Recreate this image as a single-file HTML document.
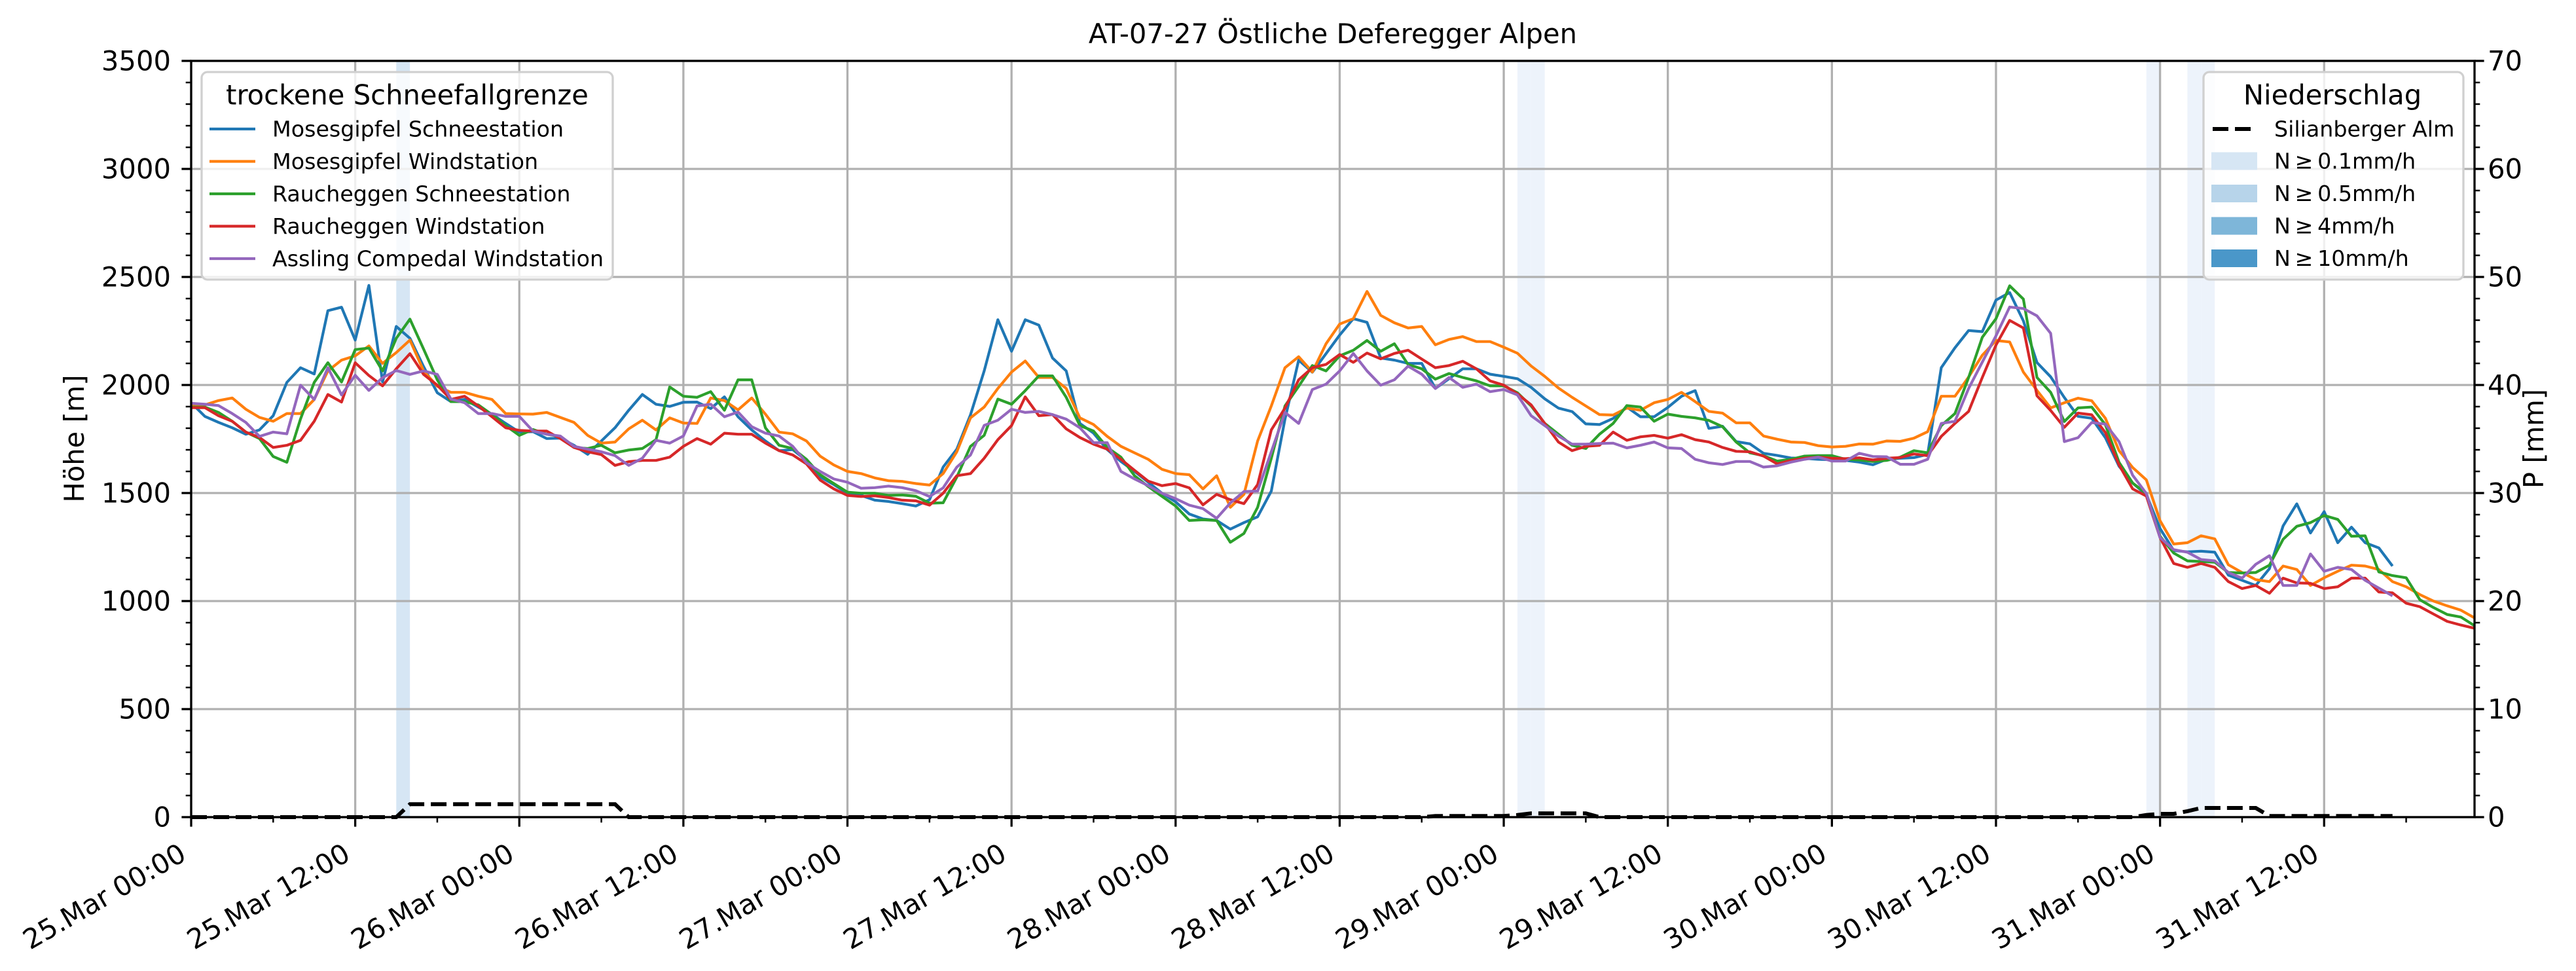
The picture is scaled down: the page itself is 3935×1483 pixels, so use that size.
<!DOCTYPE html>
<html><head><meta charset="utf-8"><title>AT-07-27 Östliche Deferegger Alpen</title>
<style>
html,body{margin:0;padding:0;background:#fff;}
svg{display:block;font-family:"DejaVu Sans","Liberation Sans",sans-serif;}
</style></head>
<body>
<svg id="chart" xmlns="http://www.w3.org/2000/svg" width="3935" height="1483" viewBox="0 0 3935 1483">
<rect x="0" y="0" width="3935" height="1483" fill="#fff"/>
<g id="bands"></g>
<g id="grid"></g>
<g id="series"></g>
<g id="axes"></g>
<text x="2036" y="66" font-size="41.7" text-anchor="middle">AT-07-27 Östliche Deferegger Alpen</text>
<text x="0" y="0" font-size="41.7" text-anchor="middle" transform="translate(128,670) rotate(-90)">Höhe [m]</text>
<text x="0" y="0" font-size="41.7" text-anchor="middle" transform="translate(3885,670) rotate(-90)">P [mm]</text>
<g id="legend1"></g>
<g id="legend2"></g>
</svg>
<script>
// ---- data (hourly from 25.Mar 00:00) ----
const tickLabels = ["25.Mar 00:00","25.Mar 12:00","26.Mar 00:00","26.Mar 12:00","27.Mar 00:00","27.Mar 12:00","28.Mar 00:00","28.Mar 12:00","29.Mar 00:00","29.Mar 12:00","30.Mar 00:00","30.Mar 12:00","31.Mar 00:00","31.Mar 12:00"];
const yTicks = [0,500,1000,1500,2000,2500,3000,3500];
const y2Ticks = [0,10,20,30,40,50,60,70];
const seriesNames = ["Mosesgipfel Schneestation","Mosesgipfel Windstation","Raucheggen Schneestation","Raucheggen Windstation","Assling Compedal Windstation"];
const mosesSchnee = [1918,1855,1827,1802,1772,1792,1858,2012,2080,2051,2344,2360,2208,2461,2014,2271,2216,2085,1964,1923,1933,1898,1865,1822,1782,1784,1752,1754,1721,1679,1741,1802,1883,1956,1911,1901,1920,1921,1891,1945,1853,1792,1741,1696,1701,
1650,1575,1539,1499,1489,1467,1461,1451,1440,1469,1620,1703,1862,2065,2302,2156,2302,2277,2125,2065,1822,1777,1701,1646,1600,1550,1499,1459,1403,1380,1373,1333,1363,1390,1509,1842,2115,2059,2145,2231,2307,2290,2125,2115,2100,
2100,1984,2029,2075,2075,2050,2040,2029,1989,1936,1893,1877,1820,1817,1845,1898,1853,1853,1896,1948,1974,1799,1809,1738,1728,1684,1674,1662,1660,1656,1654,1651,1643,1631,1656,1661,1664,1679,2080,2172,2252,2247,2393,2428,2297,
2104,2038,1942,1855,1846,1756,1624,1546,1492,1336,1234,1228,1231,1226,1120,1096,1072,1150,1348,1450,1315,1414,1270,1342,1270,1246,1162];
const mosesWind = [1903,1908,1928,1940,1888,1850,1832,1868,1868,1933,2065,2115,2135,2181,2100,2150,2208,2065,1994,1966,1966,1948,1933,1868,1866,1865,1873,1850,1827,1767,1731,1736,1797,1837,1792,1848,1824,1822,1940,1928,1885,1940,1865,1782,1774,
1741,1671,1630,1600,1590,1570,1557,1554,1544,1537,1590,1691,1848,1898,1984,2060,2111,2035,2035,1984,1848,1817,1762,1716,1686,1656,1610,1590,1585,1519,1580,1434,1494,1741,1903,2080,2131,2060,2191,2282,2307,2433,2322,2288,2264,
2271,2186,2211,2224,2201,2201,2175,2147,2088,2040,1986,1943,1903,1863,1861,1893,1883,1918,1933,1966,1923,1878,1870,1825,1825,1764,1749,1736,1734,1719,1713,1716,1727,1726,1741,1739,1754,1784,1948,1948,2037,2138,2206,2199,2060,
1975,1894,1918,1939,1927,1846,1696,1618,1561,1372,1264,1270,1302,1288,1168,1132,1099,1090,1162,1146,1072,1108,1138,1166,1162,1146,1090,1066,1030,1000,978,958,922];
const rauchSchnee = [1898,1898,1873,1832,1782,1752,1669,1642,1843,2012,2103,2014,2164,2171,2065,2216,2305,2166,2024,1923,1923,1908,1863,1812,1767,1794,1772,1762,1711,1706,1721,1686,1699,1706,1747,1991,1948,1943,1969,1883,2024,2024,1802,1721,1706,
1656,1585,1544,1504,1499,1499,1489,1491,1485,1453,1455,1574,1716,1767,1935,1911,1974,2042,2042,1943,1812,1787,1711,1666,1580,1530,1485,1440,1373,1376,1373,1272,1313,1434,1661,1903,1994,2090,2065,2135,2161,2206,2156,2191,2095,
2075,2027,2053,2035,2019,1996,1996,1964,1903,1822,1772,1721,1706,1772,1822,1905,1898,1832,1865,1855,1848,1836,1807,1736,1686,1673,1648,1656,1671,1673,1673,1656,1653,1646,1651,1666,1696,1686,1812,1868,2035,2221,2307,2459,2398,
2035,1966,1831,1894,1898,1816,1642,1546,1498,1300,1222,1186,1183,1180,1132,1130,1132,1166,1286,1346,1363,1396,1378,1300,1302,1135,1118,1108,1006,970,938,926,886];
const rauchWind = [1895,1895,1858,1832,1782,1757,1711,1721,1744,1832,1956,1921,2103,2044,1996,2075,2145,2049,1999,1933,1948,1903,1853,1802,1790,1787,1787,1752,1711,1691,1678,1628,1645,1651,1651,1666,1716,1752,1726,1777,1772,1772,1731,1696,1676,
1635,1560,1519,1489,1484,1487,1479,1467,1464,1444,1499,1580,1590,1661,1747,1812,1945,1858,1863,1797,1757,1726,1703,1656,1605,1555,1534,1544,1524,1445,1494,1469,1451,1539,1792,1893,2024,2080,2095,2141,2105,2148,2121,2146,2161,
2120,2080,2090,2110,2075,2019,1999,1959,1908,1822,1736,1696,1716,1721,1782,1744,1760,1767,1754,1770,1747,1736,1711,1693,1691,1671,1635,1651,1661,1666,1661,1659,1663,1653,1661,1664,1681,1673,1762,1822,1878,2035,2185,2299,2264,
1950,1882,1804,1870,1862,1780,1630,1519,1486,1294,1174,1156,1174,1156,1090,1058,1072,1036,1106,1084,1082,1058,1066,1106,1106,1042,1038,990,974,940,906,889,874];
const asslingWind = [1915,1911,1905,1868,1827,1762,1782,1774,1999,1933,2080,1954,2045,1975,2034,2067,2049,2065,2049,1935,1918,1868,1868,1855,1855,1787,1772,1764,1716,1703,1691,1673,1628,1661,1744,1731,1764,1903,1911,1853,1875,1807,1777,1764,1716,
1640,1600,1565,1550,1522,1525,1532,1525,1511,1484,1524,1620,1676,1813,1837,1888,1873,1878,1863,1842,1802,1733,1733,1600,1565,1534,1499,1474,1444,1428,1383,1454,1507,1509,1691,1873,1822,1979,2004,2065,2146,2065,1999,2024,2087,
2050,1984,2035,1989,2004,1969,1979,1954,1858,1812,1764,1726,1726,1729,1731,1709,1721,1736,1709,1706,1656,1640,1632,1646,1646,1620,1626,1643,1656,1666,1648,1648,1684,1669,1668,1633,1633,1656,1822,1832,1984,2106,2228,2361,2354,
2320,2239,1738,1756,1826,1819,1738,1582,1498,1294,1238,1226,1192,1186,1132,1106,1170,1210,1072,1072,1218,1138,1156,1146,1096,1060,1024];
const precipSilian = [0,0,0,0,0,0,0,0,0,0,0,0,0,0,0,0,
1.2,1.2,1.2,1.2,1.2,1.2,1.2,1.2,1.2,1.2,1.2,1.2,1.2,1.2,1.2,1.2,
0,0,0,0,0,0,0,0,0,0,0,0,0,0,0,0,0,0,0,0,0,0,0,0,0,0,0,0,0,0,0,0,0,0,0,0,0,0,0,0,0,0,0,0,0,0,0,0,0,0,0,0,0,0,0,0,0,0,0,
0.1,0.1,0.1,0.1,0.1,0.1,0.2,0.35,0.35,0.35,0.35,0.35,
0,0,0,0,0,0,0,0,0,0,0,0,0,0,0,0,0,0,0,0,0,0,0,0,0,0,0,0,0,0,0,0,0,0,0,0,0,0,0,0,
0.2,0.3,0.3,0.55,0.85,0.85,0.85,0.85,0.85,0.1,0.1,0.1,0.1,0.1,0.1,0.1,0.1,0.1,0.1];
const bandHours = [15,97,98,143,146,147];
const bandLevels = [1,0,0,0,0,0];

// ---- layout ----
const X0=292, X1=3780, Y0=1248, Y1=93, HMAX=167;
const NS="http://www.w3.org/2000/svg";
function xs(h){return X0+h*(X1-X0)/HMAX;}
function ys(v){return Y0-v*(Y0-Y1)/3500;}
function yp(m){return Y0-m*(Y0-Y1)/70;}
function mk(tag,attrs,parent){const e=document.createElementNS(NS,tag);for(const k in attrs)e.setAttribute(k,attrs[k]);parent.appendChild(e);return e;}
const colors=["#1f77b4","#ff7f0e","#2ca02c","#d62728","#9467bd"];
const bandColors=["#edf3fb","#d6e6f4"];
const gB=document.getElementById('bands'),gG=document.getElementById('grid'),gS=document.getElementById('series'),gA=document.getElementById('axes');

bandHours.forEach((h,i)=>{
  const r=mk('rect',{x:xs(h),y:Y1,width:xs(h+1)-xs(h),height:Y0-Y1,fill:bandColors[bandLevels[i]]},gB);
  
  
});
// grid
yTicks.forEach(v=>{const l=mk('line',{x1:X0,x2:X1,y1:ys(v),y2:ys(v),stroke:'#b0b0b0','stroke-width':3.3},gG);
  
  });
tickLabels.forEach((t,i)=>{const x=xs(i*12);const l=mk('line',{x1:x,x2:x,y1:Y1,y2:Y0,stroke:'#b0b0b0','stroke-width':3.3},gG);
  
  });
// series
[mosesSchnee,mosesWind,rauchSchnee,rauchWind,asslingWind].forEach((arr,si)=>{
  const pts=arr.map((v,h)=>xs(h).toFixed(1)+','+ys(v).toFixed(1)).join(' ');
  const p=mk('polyline',{points:pts,fill:'none',stroke:colors[si],'stroke-width':4.2,'stroke-linejoin':'round'},gS);
  
  
});
const pp=mk('polyline',{points:precipSilian.map((m,h)=>xs(h).toFixed(1)+','+yp(m).toFixed(1)).join(' '),fill:'none',stroke:'#000','stroke-width':6,'stroke-dasharray':'24,10'},gS);


// axes frame
mk('rect',{x:X0,y:Y1,width:X1-X0,height:Y0-Y1,fill:'none',stroke:'#000','stroke-width':3.3},gA);
// y ticks
for(let v=0;v<=3500;v+=100){const major=v%500===0;mk('line',{x1:X0,x2:X0-(major?14.6:8.3),y1:ys(v),y2:ys(v),stroke:'#000','stroke-width':major?3.3:2.5},gA);}
yTicks.forEach(v=>{const t=mk('text',{x:261,y:ys(v),'font-size':41.7,'text-anchor':'end','dominant-baseline':'central'},gA);t.textContent=v;
  
  });
for(let m=0;m<=70;m+=2){const major=m%10===0;mk('line',{x1:X1,x2:X1+(major?14.6:8.3),y1:yp(m),y2:yp(m),stroke:'#000','stroke-width':major?3.3:2.5},gA);}
y2Ticks.forEach(m=>{const t=mk('text',{x:3800,y:yp(m),'font-size':41.7,'text-anchor':'start','dominant-baseline':'central'},gA);t.textContent=m;
  
  });
// x ticks
for(let h=0;h<=HMAX;h+=6){const major=h%12===0;mk('line',{x1:xs(h),x2:xs(h),y1:Y0,y2:Y0+(major?14.6:8.3),stroke:'#000','stroke-width':major?3.3:2.5},gA);}
tickLabels.forEach((lab,i)=>{const x=xs(i*12)-5;const t=mk('text',{x:0,y:0,'font-size':41.7,'text-anchor':'end',transform:`translate(${x},1312) rotate(-30)`},gA);t.textContent=lab;
  
  });

// legend 1
const L1=document.getElementById('legend1');
mk('rect',{x:308,y:110,width:628,height:317,rx:9,fill:'rgba(255,255,255,0.8)',stroke:'#d0d0d0','stroke-width':3.3},L1);
const lt=mk('text',{x:622,y:145,'font-size':41.7,'text-anchor':'middle','dominant-baseline':'central'},L1);lt.textContent='trockene Schneefallgrenze';


seriesNames.forEach((n,i)=>{const y=197+i*49.5;
  const g=mk('g',{},L1);
  
  
  mk('line',{x1:320,x2:390,y1:y,y2:y,stroke:colors[i],'stroke-width':4.2},g);
  const t=mk('text',{x:416,y:y,'font-size':33.3,'dominant-baseline':'central'},g);t.textContent=n;});
// legend 2
const L2=document.getElementById('legend2');
mk('rect',{x:3366,y:110,width:397,height:317,rx:9,fill:'rgba(255,255,255,0.8)',stroke:'#d0d0d0','stroke-width':3.3},L2);
const lt2=mk('text',{x:3563,y:145,'font-size':41.7,'text-anchor':'middle','dominant-baseline':'central'},L2);lt2.textContent='Niederschlag';


const g0=mk('g',{},L2);


mk('line',{x1:3380,x2:3448,y1:197,y2:197,stroke:'#000','stroke-width':6,'stroke-dasharray':'24,10'},g0);
const t0=mk('text',{x:3474,y:197,'font-size':33.3,'dominant-baseline':'central'},g0);t0.textContent='Silianberger Alm';
const patchLabels=["N\u2009\u2265\u20090.1mm/h","N\u2009\u2265\u20090.5mm/h","N\u2009\u2265\u20094mm/h","N\u2009\u2265\u200910mm/h"];
const patchColors=["#d6e6f4","#b7d4ea","#7eb6d9","#4a97c9"];
patchLabels.forEach((lab,i)=>{const y=246+i*49.5;
  const g=mk('g',{},L2);
  
  
  mk('rect',{x:3378,y:y-13.5,width:70,height:27,fill:patchColors[i]},g);
  const t=mk('text',{x:3474,y:y,'font-size':33.3,'dominant-baseline':'central'},g);t.textContent=lab;});
</script>
</body></html>
